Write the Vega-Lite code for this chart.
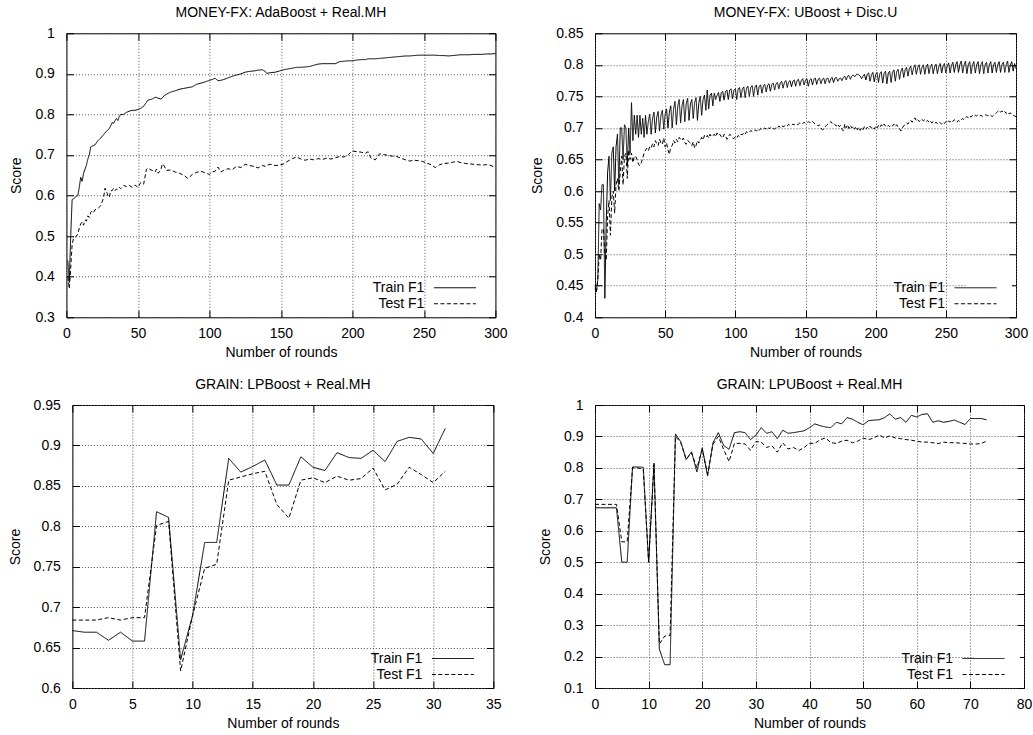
{
"$schema": "https://vega.github.io/schema/vega-lite/v6.json",
"padding": {"left": 7, "top": 5, "right": 0, "bottom": 0},
"config": {
 "font": "Liberation Sans",
 "view": {"stroke": "black", "strokeWidth": 1},
 "axis": {"labelFont": "Liberation Sans", "labelFontSize": 14, "labelColor": "black", "titleFont": "Liberation Sans", "titleFontSize": 14, "titleFontWeight": "normal", "titleColor": "black", "domain": false, "tickColor": "black", "tickSize": -7, "gridColor": "#555", "gridDash": [1, 2], "gridWidth": 1, "labelFlush": false, "labelOverlap": false},
 "axisX": {"labelPadding": 16, "titlePadding": 5},
 "axisY": {"labelPadding": 19, "titlePadding": 11},
 "title": {"font": "Liberation Sans", "fontSize": 14, "fontWeight": "normal", "color": "black", "offset": 6, "baseline": "alphabetic"},
 "legend": {"labelFont": "Liberation Sans", "labelFontSize": 14, "labelColor": "black", "symbolType": "M-3,0H3M4.6,0", "symbolSize": 196, "symbolStrokeWidth": 1, "symbolStrokeColor": "black", "labelAlign": "right", "labelOffset": -38, "fillColor": "white", "padding": 2, "rowPadding": 1, "offset": 4, "orient": "bottom-right"}
},
"datasets": {
 "tl": [
  {"r":1,"tr":0.44,"te":0.40},{"r":2,"tr":0.385,"te":0.37},{"r":3,"tr":0.50,"te":0.42},{"r":4,"tr":0.59,"te":0.48},{"r":5,"tr":0.592,"te":0.495},{"r":6,"tr":0.595,"te":0.497},{"r":7,"tr":0.598,"te":0.50},{"r":8,"tr":0.60,"te":0.505},{"r":9,"tr":0.62,"te":0.52},{"r":10,"tr":0.645,"te":0.53},
  {"r":11,"tr":0.635,"te":0.535},{"r":12,"tr":0.655,"te":0.527},{"r":13,"tr":0.665,"te":0.54},{"r":14,"tr":0.675,"te":0.537},{"r":15,"tr":0.69,"te":0.55},{"r":16,"tr":0.70,"te":0.546},{"r":17,"tr":0.72,"te":0.558},{"r":18,"tr":0.722,"te":0.562},{"r":19,"tr":0.723,"te":0.558},{"r":20,"tr":0.725,"te":0.565},
  {"r":22,"tr":0.735,"te":0.568},{"r":24,"tr":0.742,"te":0.575},{"r":26,"tr":0.75,"te":0.595},{"r":27,"tr":0.755,"te":0.618},{"r":28,"tr":0.758,"te":0.61},{"r":29,"tr":0.762,"te":0.60},{"r":30,"tr":0.765,"te":0.595},{"r":31,"tr":0.772,"te":0.612},{"r":32,"tr":0.78,"te":0.612},{"r":33,"tr":0.778,"te":0.618},
  {"r":34,"tr":0.785,"te":0.612},{"r":35,"tr":0.79,"te":0.616},{"r":36,"tr":0.785,"te":0.614},{"r":37,"tr":0.795,"te":0.62},{"r":38,"tr":0.80,"te":0.617},{"r":40,"tr":0.80,"te":0.625},{"r":42,"tr":0.805,"te":0.622},{"r":44,"tr":0.808,"te":0.625},{"r":46,"tr":0.81,"te":0.62},{"r":48,"tr":0.81,"te":0.626},
  {"r":50,"tr":0.812,"te":0.62},{"r":52,"tr":0.815,"te":0.632},{"r":54,"tr":0.82,"te":0.628},{"r":56,"tr":0.83,"te":0.665},{"r":57,"tr":0.835,"te":0.668},{"r":58,"tr":0.836,"te":0.665},{"r":60,"tr":0.838,"te":0.662},{"r":62,"tr":0.842,"te":0.658},{"r":63,"tr":0.842,"te":0.665},{"r":64,"tr":0.84,"te":0.655},
  {"r":66,"tr":0.838,"te":0.662},{"r":67,"tr":0.84,"te":0.678},{"r":68,"tr":0.845,"te":0.675},{"r":70,"tr":0.85,"te":0.662},{"r":73,"tr":0.855,"te":0.663},{"r":76,"tr":0.858,"te":0.658},{"r":79,"tr":0.862,"te":0.655},{"r":82,"tr":0.864,"te":0.65},{"r":85,"tr":0.866,"te":0.642},{"r":88,"tr":0.868,"te":0.652},
  {"r":91,"tr":0.874,"te":0.657},{"r":94,"tr":0.877,"te":0.66},{"r":97,"tr":0.88,"te":0.656},{"r":100,"tr":0.884,"te":0.652},{"r":102,"tr":0.886,"te":0.658},{"r":104,"tr":0.889,"te":0.66},{"r":106,"tr":0.883,"te":0.67},{"r":108,"tr":0.884,"te":0.658},{"r":110,"tr":0.886,"te":0.662},{"r":113,"tr":0.89,"te":0.666},
  {"r":116,"tr":0.894,"te":0.664},{"r":119,"tr":0.897,"te":0.672},{"r":122,"tr":0.9,"te":0.669},{"r":125,"tr":0.904,"te":0.677},{"r":128,"tr":0.906,"te":0.674},{"r":131,"tr":0.907,"te":0.672},{"r":134,"tr":0.909,"te":0.668},{"r":137,"tr":0.91,"te":0.674},{"r":139,"tr":0.906,"te":0.672},{"r":140,"tr":0.901,"te":0.675},
  {"r":143,"tr":0.903,"te":0.677},{"r":146,"tr":0.904,"te":0.674},{"r":149,"tr":0.907,"te":0.675},{"r":152,"tr":0.91,"te":0.678},{"r":155,"tr":0.912,"te":0.685},{"r":158,"tr":0.914,"te":0.691},{"r":161,"tr":0.916,"te":0.695},{"r":164,"tr":0.916,"te":0.69},{"r":167,"tr":0.917,"te":0.687},{"r":170,"tr":0.918,"te":0.69},
  {"r":173,"tr":0.921,"te":0.688},{"r":176,"tr":0.924,"te":0.691},{"r":179,"tr":0.925,"te":0.689},{"r":182,"tr":0.925,"te":0.692},{"r":185,"tr":0.925,"te":0.69},{"r":188,"tr":0.925,"te":0.693},{"r":191,"tr":0.93,"te":0.696},{"r":194,"tr":0.931,"te":0.695},{"r":197,"tr":0.932,"te":0.7},{"r":200,"tr":0.932,"te":0.71},
  {"r":203,"tr":0.934,"te":0.708},{"r":206,"tr":0.935,"te":0.707},{"r":209,"tr":0.935,"te":0.704},{"r":211,"tr":0.937,"te":0.708},{"r":213,"tr":0.937,"te":0.692},{"r":216,"tr":0.937,"te":0.688},{"r":219,"tr":0.938,"te":0.703},{"r":222,"tr":0.939,"te":0.701},{"r":225,"tr":0.94,"te":0.699},{"r":228,"tr":0.941,"te":0.697},
  {"r":231,"tr":0.942,"te":0.696},{"r":234,"tr":0.943,"te":0.692},{"r":237,"tr":0.944,"te":0.688},{"r":240,"tr":0.944,"te":0.685},{"r":243,"tr":0.945,"te":0.687},{"r":246,"tr":0.946,"te":0.686},{"r":249,"tr":0.946,"te":0.684},{"r":252,"tr":0.946,"te":0.68},{"r":255,"tr":0.946,"te":0.676},{"r":258,"tr":0.946,"te":0.669},
  {"r":261,"tr":0.945,"te":0.676},{"r":264,"tr":0.945,"te":0.679},{"r":267,"tr":0.944,"te":0.68},{"r":270,"tr":0.945,"te":0.682},{"r":273,"tr":0.946,"te":0.684},{"r":276,"tr":0.947,"te":0.681},{"r":279,"tr":0.947,"te":0.679},{"r":282,"tr":0.947,"te":0.678},{"r":285,"tr":0.948,"te":0.677},{"r":288,"tr":0.948,"te":0.676},
  {"r":291,"tr":0.948,"te":0.675},{"r":294,"tr":0.949,"te":0.676},{"r":297,"tr":0.949,"te":0.674},{"r":300,"tr":0.95,"te":0.668}
 ],
 "trp": [
  {"r":0,"tr":0.445,"te":0.45},{"r":1,"tr":0.44,"te":0.44},{"r":2,"tr":0.46,"te":0.46},{"r":3,"tr":0.58,"te":0.50},{"r":4,"tr":0.57,"te":0.49},{"r":5,"tr":0.61,"te":0.54},{"r":6,"tr":0.61,"te":0.54},{"r":7,"tr":0.43,"te":0.50},{"r":8,"tr":0.55,"te":0.49},{"r":9,"tr":0.63,"te":0.56},
  {"r":10,"tr":0.655,"te":0.585},{"r":11,"tr":0.585,"te":0.53},{"r":12,"tr":0.66,"te":0.59},{"r":13,"tr":0.67,"te":0.60},{"r":14,"tr":0.60,"te":0.565},{"r":15,"tr":0.67,"te":0.61},{"r":16,"tr":0.69,"te":0.62},{"r":17,"tr":0.61,"te":0.60},{"r":18,"tr":0.70,"te":0.63},{"r":19,"tr":0.70,"te":0.655},
  {"r":20,"tr":0.65,"te":0.61},{"r":21,"tr":0.705,"te":0.655},{"r":22,"tr":0.70,"te":0.66},{"r":23,"tr":0.64,"te":0.62},{"r":24,"tr":0.70,"te":0.665},{"r":25,"tr":0.66,"te":0.65},{"r":26,"tr":0.74,"te":0.66},{"r":27,"tr":0.68,"te":0.645},{"r":28,"tr":0.72,"te":0.655},{"r":29,"tr":0.69,"te":0.655},
  {"r":30,"tr":0.72,"te":0.65},{"r":31,"tr":0.685,"te":0.642},{"r":32,"tr":0.72,"te":0.64},{"r":33,"tr":0.69,"te":0.645},{"r":34,"tr":0.715,"te":0.652},{"r":35,"tr":0.685,"te":0.66},{"r":36,"tr":0.72,"te":0.665},{"r":37,"tr":0.69,"te":0.668},{"r":38,"tr":0.71,"te":0.664},{"r":39,"tr":0.722,"te":0.67},
  {"r":40,"tr":0.69,"te":0.668},{"r":41,"tr":0.715,"te":0.675},{"r":42,"tr":0.725,"te":0.67},{"r":43,"tr":0.692,"te":0.68},{"r":44,"tr":0.717,"te":0.675},{"r":45,"tr":0.726,"te":0.672},{"r":46,"tr":0.695,"te":0.682},{"r":47,"tr":0.72,"te":0.676},{"r":48,"tr":0.728,"te":0.674},{"r":49,"tr":0.698,"te":0.684},
  {"r":50,"tr":0.722,"te":0.67},{"r":51,"tr":0.73,"te":0.676},{"r":52,"tr":0.70,"te":0.665},{"r":53,"tr":0.725,"te":0.658},{"r":54,"tr":0.735,"te":0.67},{"r":55,"tr":0.70,"te":0.672},{"r":56,"tr":0.73,"te":0.68},{"r":57,"tr":0.742,"te":0.676},{"r":58,"tr":0.705,"te":0.682},{"r":59,"tr":0.735,"te":0.678},
  {"r":60,"tr":0.745,"te":0.685},{"r":61,"tr":0.708,"te":0.682},{"r":62,"tr":0.735,"te":0.68},{"r":63,"tr":0.745,"te":0.684},{"r":64,"tr":0.71,"te":0.677},{"r":65,"tr":0.738,"te":0.674},{"r":66,"tr":0.747,"te":0.68},{"r":67,"tr":0.712,"te":0.678},{"r":68,"tr":0.738,"te":0.676},{"r":69,"tr":0.745,"te":0.672},
  {"r":70,"tr":0.715,"te":0.678},{"r":71,"tr":0.74,"te":0.668},{"r":72,"tr":0.748,"te":0.672},{"r":73,"tr":0.712,"te":0.68},{"r":74,"tr":0.74,"te":0.676},{"r":75,"tr":0.75,"te":0.68},{"r":76,"tr":0.72,"te":0.685},{"r":77,"tr":0.745,"te":0.681},{"r":78,"tr":0.752,"te":0.688},{"r":79,"tr":0.728,"te":0.685},
  {"r":80,"tr":0.76,"te":0.688},{"r":81,"tr":0.73,"te":0.684},{"r":82,"tr":0.752,"te":0.69},{"r":83,"tr":0.755,"te":0.686},{"r":84,"tr":0.735,"te":0.688},{"r":85,"tr":0.755,"te":0.69},{"r":86,"tr":0.745,"te":0.686},{"r":87,"tr":0.752,"te":0.692},{"r":88,"tr":0.756,"te":0.688},{"r":89,"tr":0.742,"te":0.69},
  {"r":90,"tr":0.756,"te":0.686},{"r":91,"tr":0.758,"te":0.684},{"r":92,"tr":0.744,"te":0.69},{"r":93,"tr":0.758,"te":0.688},{"r":94,"tr":0.76,"te":0.682},{"r":95,"tr":0.745,"te":0.686},{"r":96,"tr":0.76,"te":0.69},{"r":97,"tr":0.762,"te":0.688},{"r":98,"tr":0.746,"te":0.684},{"r":99,"tr":0.76,"te":0.683},
  {"r":100,"tr":0.762,"te":0.686},{"r":101,"tr":0.745,"te":0.684},{"r":102,"tr":0.762,"te":0.688},{"r":103,"tr":0.764,"te":0.686},{"r":104,"tr":0.748,"te":0.69},{"r":105,"tr":0.762,"te":0.689},{"r":106,"tr":0.765,"te":0.692},{"r":107,"tr":0.748,"te":0.69},{"r":108,"tr":0.763,"te":0.694},{"r":109,"tr":0.766,"te":0.692},
  {"r":110,"tr":0.75,"te":0.693},{"r":111,"tr":0.764,"te":0.696},{"r":112,"tr":0.767,"te":0.694},{"r":113,"tr":0.75,"te":0.695},{"r":114,"tr":0.765,"te":0.697},{"r":115,"tr":0.768,"te":0.695},{"r":116,"tr":0.752,"te":0.698},{"r":117,"tr":0.766,"te":0.696},{"r":118,"tr":0.768,"te":0.699},{"r":119,"tr":0.755,"te":0.697},
  {"r":120,"tr":0.767,"te":0.698},{"r":121,"tr":0.769,"te":0.7},{"r":122,"tr":0.757,"te":0.698},{"r":123,"tr":0.768,"te":0.701},{"r":124,"tr":0.77,"te":0.699},{"r":125,"tr":0.758,"te":0.7},{"r":126,"tr":0.769,"te":0.702},{"r":127,"tr":0.771,"te":0.699},{"r":128,"tr":0.76,"te":0.698},{"r":129,"tr":0.77,"te":0.701},
  {"r":130,"tr":0.772,"te":0.7},{"r":131,"tr":0.762,"te":0.703},{"r":132,"tr":0.771,"te":0.701},{"r":133,"tr":0.774,"te":0.704},{"r":134,"tr":0.763,"te":0.702},{"r":135,"tr":0.772,"te":0.703},{"r":136,"tr":0.775,"te":0.705},{"r":137,"tr":0.764,"te":0.703},{"r":138,"tr":0.773,"te":0.706},{"r":139,"tr":0.775,"te":0.704},
  {"r":140,"tr":0.765,"te":0.704},{"r":141,"tr":0.774,"te":0.706},{"r":142,"tr":0.776,"te":0.705},{"r":143,"tr":0.766,"te":0.707},{"r":144,"tr":0.775,"te":0.705},{"r":145,"tr":0.777,"te":0.706},{"r":146,"tr":0.767,"te":0.708},{"r":147,"tr":0.775,"te":0.706},{"r":148,"tr":0.778,"te":0.707},{"r":149,"tr":0.768,"te":0.709},
  {"r":150,"tr":0.776,"te":0.707},{"r":151,"tr":0.778,"te":0.708},{"r":152,"tr":0.766,"te":0.71},{"r":153,"tr":0.776,"te":0.708},{"r":154,"tr":0.778,"te":0.711},{"r":155,"tr":0.768,"te":0.71},{"r":156,"tr":0.777,"te":0.708},{"r":157,"tr":0.779,"te":0.706},{"r":158,"tr":0.769,"te":0.705},{"r":159,"tr":0.777,"te":0.703},
  {"r":160,"tr":0.779,"te":0.705},{"r":161,"tr":0.77,"te":0.7},{"r":162,"tr":0.777,"te":0.697},{"r":163,"tr":0.779,"te":0.698},{"r":164,"tr":0.77,"te":0.702},{"r":165,"tr":0.778,"te":0.704},{"r":166,"tr":0.779,"te":0.706},{"r":167,"tr":0.771,"te":0.708},{"r":168,"tr":0.778,"te":0.71},{"r":169,"tr":0.78,"te":0.707},
  {"r":170,"tr":0.772,"te":0.708},{"r":171,"tr":0.779,"te":0.705},{"r":172,"tr":0.78,"te":0.703},{"r":173,"tr":0.774,"te":0.706},{"r":174,"tr":0.778,"te":0.702},{"r":175,"tr":0.779,"te":0.704},{"r":176,"tr":0.775,"te":0.698},{"r":177,"tr":0.78,"te":0.695},{"r":178,"tr":0.782,"te":0.706},{"r":179,"tr":0.776,"te":0.7},
  {"r":180,"tr":0.782,"te":0.705},{"r":181,"tr":0.783,"te":0.699},{"r":182,"tr":0.777,"te":0.704},{"r":183,"tr":0.782,"te":0.7},{"r":184,"tr":0.784,"te":0.703},{"r":185,"tr":0.781,"te":0.698},{"r":186,"tr":0.784,"te":0.702},{"r":187,"tr":0.785,"te":0.697},{"r":188,"tr":0.784,"te":0.701},{"r":189,"tr":0.782,"te":0.696},
  {"r":190,"tr":0.778,"te":0.7},{"r":191,"tr":0.782,"te":0.697},{"r":192,"tr":0.785,"te":0.702},{"r":193,"tr":0.776,"te":0.698},{"r":194,"tr":0.785,"te":0.701},{"r":195,"tr":0.787,"te":0.699},{"r":196,"tr":0.774,"te":0.703},{"r":197,"tr":0.784,"te":0.7},{"r":198,"tr":0.788,"te":0.702},{"r":199,"tr":0.773,"te":0.698},
  {"r":200,"tr":0.785,"te":0.703},{"r":201,"tr":0.788,"te":0.7},{"r":202,"tr":0.772,"te":0.704},{"r":203,"tr":0.786,"te":0.701},{"r":204,"tr":0.789,"te":0.705},{"r":205,"tr":0.771,"te":0.702},{"r":206,"tr":0.786,"te":0.706},{"r":207,"tr":0.79,"te":0.703},{"r":208,"tr":0.77,"te":0.701},{"r":209,"tr":0.787,"te":0.704},
  {"r":210,"tr":0.79,"te":0.702},{"r":211,"tr":0.772,"te":0.705},{"r":212,"tr":0.788,"te":0.703},{"r":213,"tr":0.792,"te":0.706},{"r":214,"tr":0.774,"te":0.702},{"r":215,"tr":0.789,"te":0.705},{"r":216,"tr":0.793,"te":0.701},{"r":217,"tr":0.777,"te":0.699},{"r":218,"tr":0.79,"te":0.695},{"r":219,"tr":0.795,"te":0.7},
  {"r":220,"tr":0.78,"te":0.703},{"r":221,"tr":0.792,"te":0.706},{"r":222,"tr":0.796,"te":0.708},{"r":223,"tr":0.782,"te":0.706},{"r":224,"tr":0.794,"te":0.71},{"r":225,"tr":0.798,"te":0.712},{"r":226,"tr":0.784,"te":0.709},{"r":227,"tr":0.795,"te":0.713},{"r":228,"tr":0.8,"te":0.716},{"r":229,"tr":0.785,"te":0.711},
  {"r":230,"tr":0.796,"te":0.713},{"r":231,"tr":0.8,"te":0.71},{"r":232,"tr":0.785,"te":0.712},{"r":233,"tr":0.796,"te":0.714},{"r":234,"tr":0.8,"te":0.711},{"r":235,"tr":0.785,"te":0.713},{"r":236,"tr":0.797,"te":0.71},{"r":237,"tr":0.801,"te":0.712},{"r":238,"tr":0.786,"te":0.709},{"r":239,"tr":0.797,"te":0.711},
  {"r":240,"tr":0.801,"te":0.708},{"r":241,"tr":0.786,"te":0.71},{"r":242,"tr":0.797,"te":0.707},{"r":243,"tr":0.801,"te":0.709},{"r":244,"tr":0.786,"te":0.707},{"r":245,"tr":0.797,"te":0.71},{"r":246,"tr":0.802,"te":0.708},{"r":247,"tr":0.787,"te":0.706},{"r":248,"tr":0.798,"te":0.709},{"r":249,"tr":0.802,"te":0.707},
  {"r":250,"tr":0.787,"te":0.71},{"r":251,"tr":0.798,"te":0.708},{"r":252,"tr":0.803,"te":0.711},{"r":253,"tr":0.787,"te":0.709},{"r":254,"tr":0.799,"te":0.712},{"r":255,"tr":0.804,"te":0.71},{"r":256,"tr":0.788,"te":0.713},{"r":257,"tr":0.8,"te":0.711},{"r":258,"tr":0.805,"te":0.709},{"r":259,"tr":0.788,"te":0.712},
  {"r":260,"tr":0.8,"te":0.71},{"r":261,"tr":0.806,"te":0.713},{"r":262,"tr":0.787,"te":0.715},{"r":263,"tr":0.8,"te":0.713},{"r":264,"tr":0.806,"te":0.716},{"r":265,"tr":0.786,"te":0.718},{"r":266,"tr":0.8,"te":0.716},{"r":267,"tr":0.805,"te":0.719},{"r":268,"tr":0.786,"te":0.717},{"r":269,"tr":0.8,"te":0.72},
  {"r":270,"tr":0.805,"te":0.718},{"r":271,"tr":0.787,"te":0.72},{"r":272,"tr":0.8,"te":0.719},{"r":273,"tr":0.805,"te":0.721},{"r":274,"tr":0.786,"te":0.719},{"r":275,"tr":0.8,"te":0.72},{"r":276,"tr":0.805,"te":0.718},{"r":277,"tr":0.786,"te":0.72},{"r":278,"tr":0.8,"te":0.721},{"r":279,"tr":0.804,"te":0.72},
  {"r":280,"tr":0.787,"te":0.719},{"r":281,"tr":0.8,"te":0.721},{"r":282,"tr":0.805,"te":0.72},{"r":283,"tr":0.787,"te":0.718},{"r":284,"tr":0.8,"te":0.72},{"r":285,"tr":0.804,"te":0.722},{"r":286,"tr":0.788,"te":0.724},{"r":287,"tr":0.8,"te":0.726},{"r":288,"tr":0.805,"te":0.728},{"r":289,"tr":0.788,"te":0.725},
  {"r":290,"tr":0.8,"te":0.727},{"r":291,"tr":0.804,"te":0.724},{"r":292,"tr":0.788,"te":0.726},{"r":293,"tr":0.8,"te":0.723},{"r":294,"tr":0.806,"te":0.725},{"r":295,"tr":0.788,"te":0.722},{"r":296,"tr":0.8,"te":0.724},{"r":297,"tr":0.805,"te":0.721},{"r":298,"tr":0.79,"te":0.72},{"r":299,"tr":0.802,"te":0.719},
  {"r":300,"tr":0.794,"te":0.718}
 ],
 "bl": [
  {"r":0,"tr":0.671,"te":0.684},{"r":1,"tr":0.669,"te":0.684},{"r":2,"tr":0.669,"te":0.684},{"r":3,"tr":0.659,"te":0.687},{"r":4,"tr":0.669,"te":0.684},{"r":5,"tr":0.658,"te":0.687},{"r":6,"tr":0.658,"te":0.687},{"r":7,"tr":0.818,"te":0.801},{"r":8,"tr":0.811,"te":0.806},{"r":9,"tr":0.635,"te":0.621},
  {"r":10,"tr":0.69,"te":0.69},{"r":11,"tr":0.78,"te":0.748},{"r":12,"tr":0.78,"te":0.753},{"r":13,"tr":0.884,"te":0.857},{"r":14,"tr":0.867,"te":0.861},{"r":15,"tr":0.874,"te":0.865},{"r":16,"tr":0.882,"te":0.868},{"r":17,"tr":0.851,"te":0.827},{"r":18,"tr":0.851,"te":0.81},{"r":19,"tr":0.886,"te":0.857},
  {"r":20,"tr":0.873,"te":0.86},{"r":21,"tr":0.869,"te":0.854},{"r":22,"tr":0.891,"te":0.862},{"r":23,"tr":0.885,"te":0.857},{"r":24,"tr":0.884,"te":0.859},{"r":25,"tr":0.894,"te":0.872},{"r":26,"tr":0.88,"te":0.845},{"r":27,"tr":0.905,"te":0.852},{"r":28,"tr":0.91,"te":0.873},{"r":29,"tr":0.908,"te":0.864},
  {"r":30,"tr":0.89,"te":0.854},{"r":31,"tr":0.921,"te":0.868}
 ],
 "br": [
  {"r":0,"tr":0.673,"te":0.684},{"r":1,"tr":0.673,"te":0.684},{"r":2,"tr":0.673,"te":0.684},{"r":3,"tr":0.673,"te":0.684},{"r":4,"tr":0.673,"te":0.684},{"r":5,"tr":0.50,"te":0.565},{"r":6,"tr":0.50,"te":0.565},{"r":7,"tr":0.803,"te":0.80},{"r":8,"tr":0.803,"te":0.80},{"r":9,"tr":0.802,"te":0.795},
  {"r":10,"tr":0.50,"te":0.50},{"r":11,"tr":0.815,"te":0.81},{"r":12,"tr":0.224,"te":0.24},{"r":13,"tr":0.174,"te":0.265},{"r":14,"tr":0.174,"te":0.267},{"r":15,"tr":0.908,"te":0.90},{"r":16,"tr":0.883,"te":0.88},{"r":17,"tr":0.827,"te":0.827},{"r":18,"tr":0.851,"te":0.848},{"r":19,"tr":0.787,"te":0.80},
  {"r":20,"tr":0.864,"te":0.858},{"r":21,"tr":0.774,"te":0.78},{"r":22,"tr":0.88,"te":0.875},{"r":23,"tr":0.912,"te":0.90},{"r":24,"tr":0.871,"te":0.858},{"r":25,"tr":0.859,"te":0.82},{"r":26,"tr":0.912,"te":0.878},{"r":27,"tr":0.915,"te":0.878},{"r":28,"tr":0.912,"te":0.876},{"r":29,"tr":0.89,"te":0.856},
  {"r":30,"tr":0.904,"te":0.884},{"r":31,"tr":0.928,"te":0.882},{"r":32,"tr":0.91,"te":0.865},{"r":33,"tr":0.915,"te":0.87},{"r":34,"tr":0.893,"te":0.85},{"r":35,"tr":0.92,"te":0.88},{"r":36,"tr":0.91,"te":0.86},{"r":37,"tr":0.912,"te":0.865},{"r":38,"tr":0.915,"te":0.855},{"r":39,"tr":0.918,"te":0.865},
  {"r":40,"tr":0.928,"te":0.878},{"r":41,"tr":0.94,"te":0.878},{"r":42,"tr":0.934,"te":0.89},{"r":43,"tr":0.93,"te":0.895},{"r":44,"tr":0.928,"te":0.88},{"r":45,"tr":0.945,"te":0.878},{"r":46,"tr":0.94,"te":0.885},{"r":47,"tr":0.96,"te":0.888},{"r":48,"tr":0.955,"te":0.88},{"r":49,"tr":0.945,"te":0.885},
  {"r":50,"tr":0.937,"te":0.895},{"r":51,"tr":0.95,"te":0.89},{"r":52,"tr":0.952,"te":0.895},{"r":53,"tr":0.953,"te":0.905},{"r":54,"tr":0.96,"te":0.895},{"r":55,"tr":0.972,"te":0.902},{"r":56,"tr":0.955,"te":0.895},{"r":57,"tr":0.96,"te":0.893},{"r":58,"tr":0.945,"te":0.89},{"r":59,"tr":0.967,"te":0.888},
  {"r":60,"tr":0.962,"te":0.885},{"r":61,"tr":0.97,"te":0.882},{"r":62,"tr":0.972,"te":0.882},{"r":63,"tr":0.945,"te":0.88},{"r":64,"tr":0.95,"te":0.877},{"r":65,"tr":0.945,"te":0.882},{"r":66,"tr":0.948,"te":0.88},{"r":67,"tr":0.952,"te":0.88},{"r":68,"tr":0.945,"te":0.879},{"r":69,"tr":0.938,"te":0.878},
  {"r":70,"tr":0.957,"te":0.876},{"r":71,"tr":0.957,"te":0.876},{"r":72,"tr":0.957,"te":0.877},{"r":73,"tr":0.953,"te":0.885}
 ]
},
"columns": 2,
"center": true,
"spacing": {"row": 17, "column": 22},
"resolve": {"scale": {"strokeDash": "independent"}, "legend": {"strokeDash": "independent"}},
"concat": [
   {
    "width": 429, "height": 284,
    "title": "MONEY-FX: AdaBoost + Real.MH",
    "data": {"name": "tl"},
    "transform": [{"fold": ["tr", "te"], "as": ["s", "v"]}],
    "resolve": {"axis": {"x": "independent", "y": "independent"}},
    "layer": [
     {
      "mark": {"type": "line", "color": "black", "strokeWidth": 1},
      "encoding": {
       "x": {"field": "r", "type": "quantitative", "scale": {"domain": [0, 300], "nice": false, "zero": false}, "axis": {"title": "Number of rounds", "values": [0, 50, 100, 150, 200, 250, 300]}},
       "y": {"field": "v", "type": "quantitative", "scale": {"domain": [0.3, 1], "nice": false, "zero": false}, "axis": {"title": "Score", "format": "~g", "values": [0.3, 0.4, 0.5, 0.6, 0.7, 0.8, 0.9, 1]}},
       "strokeDash": {"field": "s", "type": "nominal", "scale": {"domain": ["tr", "te"], "range": [[1, 0], [4, 2.5]]}, "legend": {"title": null, "labelExpr": "datum.value == 'tr' ? 'Train F1' : 'Test F1'"}}
      }
     },
     {
      "mark": {"type": "line", "opacity": 0},
      "encoding": {
       "x": {"field": "r", "type": "quantitative", "axis": {"orient": "top", "labels": false, "grid": false, "title": null, "values": [0, 50, 100, 150, 200, 250, 300]}},
       "y": {"field": "v", "type": "quantitative", "axis": {"orient": "right", "labels": false, "grid": false, "title": null, "values": [0.3, 0.4, 0.5, 0.6, 0.7, 0.8, 0.9, 1]}}
      }
     }
    ]
   },
   {
    "width": 421, "height": 284,
    "title": "MONEY-FX: UBoost + Disc.U",
    "data": {"name": "trp"},
    "transform": [{"fold": ["tr", "te"], "as": ["s", "v"]}],
    "resolve": {"axis": {"x": "independent", "y": "independent"}},
    "layer": [
     {
      "mark": {"type": "line", "color": "black", "strokeWidth": 1},
      "encoding": {
       "x": {"field": "r", "type": "quantitative", "scale": {"domain": [0, 300], "nice": false, "zero": false}, "axis": {"title": "Number of rounds", "values": [0, 50, 100, 150, 200, 250, 300]}},
       "y": {"field": "v", "type": "quantitative", "scale": {"domain": [0.4, 0.85], "nice": false, "zero": false}, "axis": {"title": "Score", "format": "~g", "values": [0.4, 0.45, 0.5, 0.55, 0.6, 0.65, 0.7, 0.75, 0.8, 0.85]}},
       "strokeDash": {"field": "s", "type": "nominal", "scale": {"domain": ["tr", "te"], "range": [[1, 0], [4, 2.5]]}, "legend": {"title": null, "labelExpr": "datum.value == 'tr' ? 'Train F1' : 'Test F1'"}}
      }
     },
     {
      "mark": {"type": "line", "opacity": 0},
      "encoding": {
       "x": {"field": "r", "type": "quantitative", "axis": {"orient": "top", "labels": false, "grid": false, "title": null, "values": [0, 50, 100, 150, 200, 250, 300]}},
       "y": {"field": "v", "type": "quantitative", "axis": {"orient": "right", "labels": false, "grid": false, "title": null, "values": [0.4, 0.45, 0.5, 0.55, 0.6, 0.65, 0.7, 0.75, 0.8, 0.85]}}
      }
     }
    ]
   },
   {
    "width": 421, "height": 283,
    "title": "GRAIN: LPBoost + Real.MH",
    "data": {"name": "bl"},
    "transform": [{"fold": ["tr", "te"], "as": ["s", "v"]}],
    "resolve": {"axis": {"x": "independent", "y": "independent"}},
    "layer": [
     {
      "mark": {"type": "line", "color": "black", "strokeWidth": 1},
      "encoding": {
       "x": {"field": "r", "type": "quantitative", "scale": {"domain": [0, 35], "nice": false, "zero": false}, "axis": {"title": "Number of rounds", "values": [0, 5, 10, 15, 20, 25, 30, 35]}},
       "y": {"field": "v", "type": "quantitative", "scale": {"domain": [0.6, 0.95], "nice": false, "zero": false}, "axis": {"title": "Score", "format": "~g", "values": [0.6, 0.65, 0.7, 0.75, 0.8, 0.85, 0.9, 0.95]}},
       "strokeDash": {"field": "s", "type": "nominal", "scale": {"domain": ["tr", "te"], "range": [[1, 0], [4, 2.5]]}, "legend": {"title": null, "labelExpr": "datum.value == 'tr' ? 'Train F1' : 'Test F1'"}}
      }
     },
     {
      "mark": {"type": "line", "opacity": 0},
      "encoding": {
       "x": {"field": "r", "type": "quantitative", "axis": {"orient": "top", "labels": false, "grid": false, "title": null, "values": [0, 5, 10, 15, 20, 25, 30, 35]}},
       "y": {"field": "v", "type": "quantitative", "axis": {"orient": "right", "labels": false, "grid": false, "title": null, "values": [0.6, 0.65, 0.7, 0.75, 0.8, 0.85, 0.9, 0.95]}}
      }
     }
    ]
   },
   {
    "width": 429, "height": 283,
    "title": "GRAIN: LPUBoost + Real.MH",
    "data": {"name": "br"},
    "transform": [{"fold": ["tr", "te"], "as": ["s", "v"]}],
    "resolve": {"axis": {"x": "independent", "y": "independent"}},
    "layer": [
     {
      "mark": {"type": "line", "color": "black", "strokeWidth": 1},
      "encoding": {
       "x": {"field": "r", "type": "quantitative", "scale": {"domain": [0, 80], "nice": false, "zero": false}, "axis": {"title": "Number of rounds", "values": [0, 10, 20, 30, 40, 50, 60, 70, 80]}},
       "y": {"field": "v", "type": "quantitative", "scale": {"domain": [0.1, 1], "nice": false, "zero": false}, "axis": {"title": "Score", "format": "~g", "values": [0.1, 0.2, 0.3, 0.4, 0.5, 0.6, 0.7, 0.8, 0.9, 1]}},
       "strokeDash": {"field": "s", "type": "nominal", "scale": {"domain": ["tr", "te"], "range": [[1, 0], [4, 2.5]]}, "legend": {"title": null, "labelExpr": "datum.value == 'tr' ? 'Train F1' : 'Test F1'"}}
      }
     },
     {
      "mark": {"type": "line", "opacity": 0},
      "encoding": {
       "x": {"field": "r", "type": "quantitative", "axis": {"orient": "top", "labels": false, "grid": false, "title": null, "values": [0, 10, 20, 30, 40, 50, 60, 70, 80]}},
       "y": {"field": "v", "type": "quantitative", "axis": {"orient": "right", "labels": false, "grid": false, "title": null, "values": [0.1, 0.2, 0.3, 0.4, 0.5, 0.6, 0.7, 0.8, 0.9, 1]}}
      }
     }
    ]
   }
]
}
